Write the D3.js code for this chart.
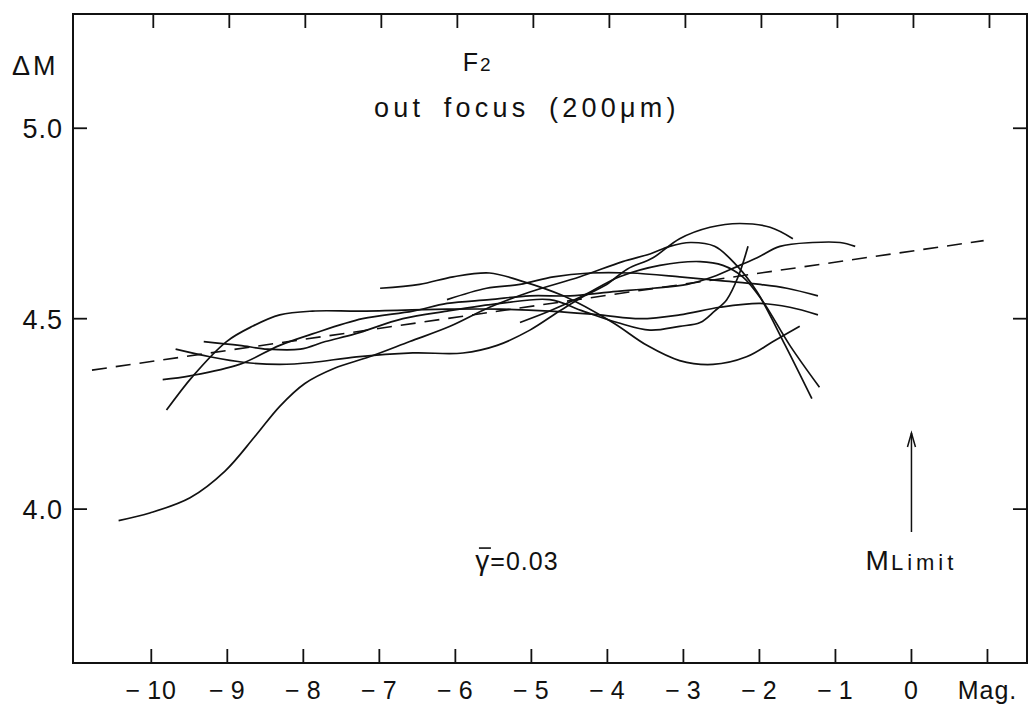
<!DOCTYPE html>
<html>
<head>
<meta charset="utf-8">
<script src="https://cdn.jsdelivr.net/npm/d3@7"></script>
<style>
  body { margin: 0; background: #fff; }
  svg text { font-family: "Liberation Sans", "DejaVu Sans", sans-serif; fill: #111; }
</style>
</head>
<body>
<svg id="chart" width="1028" height="707"></svg>
<script>
// magnitude ticks along the bottom / top
var magTicks = [-10, -9, -8, -7, -6, -5, -4, -3, -2, -1, 0, 1];
var magLabels = ["-10", "-9", "-8", "-7", "-6", "-5", "-4", "-3", "-2", "-1", "0", "Mag."];
var dmTicks = [4.0, 4.5, 5.0];
var dmLabels = ["4.0", "4.5", "5.0"];

// mean line (dashed)
var meanLine = [[-10.78, 4.365], [0.95, 4.705]];

// individual curves, [mag, deltaM]
var curveS = [[-10.43, 3.97], [-10.02, 3.99], [-9.49, 4.03], [-9.03, 4.10], [-8.64, 4.19], [-8.31, 4.27],
  [-7.98, 4.33], [-7.59, 4.37], [-7.13, 4.40], [-6.60, 4.44], [-6.07, 4.48], [-5.55, 4.53], [-5.02, 4.57],
  [-4.36, 4.61], [-3.80, 4.65], [-3.44, 4.67], [-3.18, 4.69], [-2.91, 4.70], [-2.59, 4.69],
  [-2.30, 4.64], [-2.03, 4.57], [-1.66, 4.43], [-1.31, 4.29]];
var curveA = [[-5.15, 4.49], [-4.76, 4.52], [-4.32, 4.56], [-3.84, 4.61], [-3.31, 4.64], [-2.78, 4.65],
  [-2.48, 4.64], [-2.22, 4.61], [-1.97, 4.55], [-1.60, 4.43], [-1.21, 4.32]];
var curveB = [[-9.80, 4.26], [-9.45, 4.35], [-9.01, 4.44], [-8.67, 4.48], [-8.31, 4.51], [-7.88, 4.52],
  [-7.22, 4.52], [-6.11, 4.525], [-5.41, 4.525], [-4.76, 4.52], [-4.10, 4.51], [-3.57, 4.50], [-3.05, 4.51],
  [-2.52, 4.53], [-1.99, 4.54], [-1.60, 4.53], [-1.23, 4.51]];
var curveC = [[-9.85, 4.34], [-9.49, 4.35], [-8.84, 4.38], [-8.31, 4.43], [-7.88, 4.46], [-7.22, 4.50],
  [-6.56, 4.52], [-6.11, 4.54], [-5.55, 4.55], [-5.02, 4.56], [-4.49, 4.56], [-3.97, 4.57], [-3.40, 4.58],
  [-2.95, 4.59], [-2.61, 4.61], [-2.26, 4.64], [-2.03, 4.66], [-1.73, 4.69], [-1.30, 4.70], [-0.94, 4.70],
  [-0.74, 4.69]];
var curveD = [[-9.68, 4.42], [-9.23, 4.40], [-8.77, 4.385], [-8.31, 4.38], [-7.88, 4.385], [-7.30, 4.40],
  [-6.56, 4.41], [-5.90, 4.41], [-5.45, 4.43], [-5.02, 4.47], [-4.63, 4.52], [-4.30, 4.56], [-4.01, 4.59],
  [-3.74, 4.63], [-3.40, 4.66], [-3.05, 4.71], [-2.65, 4.74], [-2.26, 4.75], [-1.86, 4.74], [-1.56, 4.71]];
var curveE = [[-9.31, 4.44], [-8.84, 4.43], [-8.47, 4.42], [-8.04, 4.42], [-7.71, 4.44], [-7.32, 4.46],
  [-6.69, 4.50], [-6.11, 4.52], [-5.41, 4.54], [-4.76, 4.55], [-4.32, 4.52], [-3.87, 4.49], [-3.44, 4.47],
  [-3.05, 4.48], [-2.78, 4.49], [-2.59, 4.52], [-2.43, 4.55], [-2.28, 4.61], [-2.15, 4.69]];
var curveF = [[-6.99, 4.58], [-6.47, 4.59], [-6.03, 4.61], [-5.55, 4.62], [-5.15, 4.60], [-4.58, 4.56],
  [-3.93, 4.49], [-3.48, 4.43], [-3.05, 4.39], [-2.61, 4.38], [-2.17, 4.40], [-1.82, 4.44], [-1.47, 4.48]];
var curveG = [[-6.11, 4.55], [-5.59, 4.58], [-5.15, 4.59], [-4.71, 4.61], [-4.23, 4.62], [-3.70, 4.62],
  [-3.05, 4.61], [-2.52, 4.60], [-1.99, 4.59], [-1.64, 4.58], [-1.23, 4.56]];

var curves = [curveS, curveA, curveB, curveC, curveD, curveE, curveF, curveG];

var svg = d3.select("#chart");
var pLeft = 73, pRight = 1027, pTop = 14, pBottom = 663;

var x = d3.scaleLinear().domain([-11.03, 1.52]).range([pLeft, pRight]);
var y = d3.scaleLinear().domain([3.596, 5.30]).range([pBottom, pTop]);

// frame
svg.append("rect")
  .attr("x", pLeft).attr("y", pTop)
  .attr("width", pRight - pLeft).attr("height", pBottom - pTop)
  .attr("fill", "none").attr("stroke", "#111").attr("stroke-width", 2);

// ticks inside the frame
var tl = 14;
svg.selectAll(".tb").data(magTicks).enter().append("line")
  .attr("x1", d => x(d)).attr("x2", d => x(d))
  .attr("y1", pBottom).attr("y2", pBottom - tl)
  .attr("stroke", "#111").attr("stroke-width", 1.8);
svg.selectAll(".tt").data(magTicks).enter().append("line")
  .attr("x1", d => x(d) + 2).attr("x2", d => x(d) + 2)
  .attr("y1", pTop).attr("y2", pTop + tl)
  .attr("stroke", "#111").attr("stroke-width", 1.8);
svg.selectAll(".tl").data(dmTicks).enter().append("line")
  .attr("x1", pLeft).attr("x2", pLeft + tl)
  .attr("y1", d => y(d)).attr("y2", d => y(d))
  .attr("stroke", "#111").attr("stroke-width", 1.8);
svg.selectAll(".tr").data(dmTicks).enter().append("line")
  .attr("x1", pRight).attr("x2", pRight - tl)
  .attr("y1", d => y(d)).attr("y2", d => y(d))
  .attr("stroke", "#111").attr("stroke-width", 1.8);

// tick labels
svg.selectAll(".lb").data(magTicks).enter().append("text")
  .attr("x", d => x(d)).attr("y", 699)
  .attr("text-anchor", "middle")
  .attr("font-size", 25)
  .attr("letter-spacing", 1)
  .text((d, i) => magLabels[i].replace("-", "\u2212\u2009"));
svg.selectAll(".ll").data(dmTicks).enter().append("text")
  .attr("x", 63).attr("y", d => y(d) + 10)
  .attr("text-anchor", "end")
  .attr("font-size", 27)
  .attr("letter-spacing", 1)
  .text((d, i) => dmLabels[i]);

svg.append("text").attr("x", 12).attr("y", 75).attr("font-size", 27)
  .attr("letter-spacing", 3).text("\u0394M");

// curves
var line = d3.line()
  .x(d => x(d[0])).y(d => y(d[1]))
  .curve(d3.curveCatmullRom.alpha(0.5));

svg.selectAll(".curve").data(curves).enter().append("path")
  .attr("d", line)
  .attr("fill", "none").attr("stroke", "#111").attr("stroke-width", 1.7);

svg.append("path")
  .attr("d", d3.line().x(d => x(d[0])).y(d => y(d[1]))(meanLine))
  .attr("fill", "none").attr("stroke", "#111").attr("stroke-width", 1.6)
  .attr("stroke-dasharray", "15,9");

// annotations
var t = svg.append("text").attr("x", x(-5.72)).attr("y", y(5.15)).attr("text-anchor", "middle").attr("font-size", 25);
t.append("tspan").text("F");
t.append("tspan").attr("font-size", 19).attr("dx", 2).text("2");

svg.append("text").attr("x", x(-5.06)).attr("y", y(5.03))
  .attr("text-anchor", "middle").attr("font-size", 27)
  .attr("letter-spacing", 4.2).attr("word-spacing", 8)
  .text("out focus (200\u03bcm)");

var g = svg.append("text").attr("x", x(-5.19)).attr("y", y(3.84)).attr("text-anchor", "middle").attr("font-size", 25)
  .attr("letter-spacing", 1);
g.append("tspan").attr("font-size", 28).text("\u03b3");
g.append("tspan").text("=0.03");
// bar over the gamma
var gx = x(-5.19) - 40;
svg.append("line")
  .attr("x1", gx + 2).attr("x2", gx + 14)
  .attr("y1", y(3.84) - 22).attr("y2", y(3.84) - 22)
  .attr("stroke", "#111").attr("stroke-width", 1.6);

var m = svg.append("text").attr("x", x(0)).attr("y", y(3.84)).attr("text-anchor", "middle");
m.append("tspan").attr("font-size", 28).text("M");
m.append("tspan").attr("font-size", 22).attr("letter-spacing", 4).attr("dx", 2).text("Limit");

// limit arrow
svg.append("line")
  .attr("x1", x(0)).attr("x2", x(0))
  .attr("y1", y(3.94)).attr("y2", y(4.20))
  .attr("stroke", "#111").attr("stroke-width", 1.5);
svg.append("path")
  .attr("d", "M" + (x(0) - 4) + "," + (y(4.20) + 14) + " L" + x(0) + "," + y(4.20) + " L" + (x(0) + 4) + "," + (y(4.20) + 14))
  .attr("fill", "none").attr("stroke", "#111").attr("stroke-width", 1.5);
</script>
</body>
</html>
